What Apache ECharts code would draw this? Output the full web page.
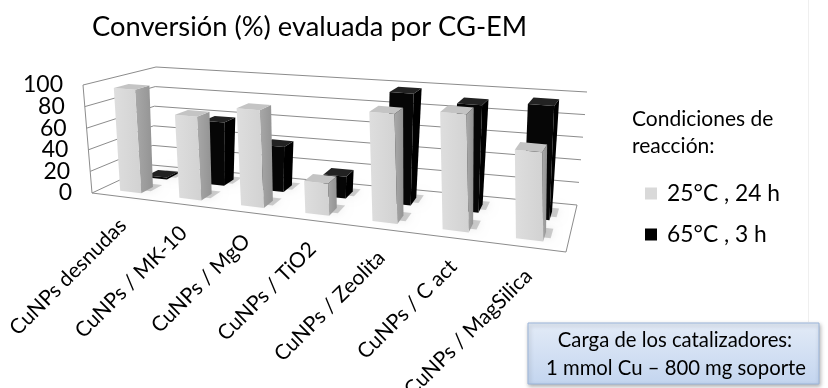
<!DOCTYPE html>
<html>
<head>
<meta charset="utf-8">
<script src="https://cdn.jsdelivr.net/npm/echarts@6/dist/echarts.min.js"></script>
<style>
  html, body { margin: 0; padding: 0; background: #fff; }
  #chart { width: 828px; height: 388px; }
</style>
</head>
<body>
<div id="chart"></div>
<script>
// ---- data ----
const categories = ['CuNPs desnudas', 'CuNPs / MK-10', 'CuNPs / MgO', 'CuNPs / TiO2',
                    'CuNPs / Zeolita', 'CuNPs / C act', 'CuNPs / MagSilica'];
const seriesNames = ['25°C , 24 h', '65°C , 3 h'];
const conv25 = [96, 76, 87, 28, 94, 99, 73];   // 25 °C, 24 h
const conv65 = [2, 60, 42, 20, 100, 94, 98];   // 65 °C, 3 h
const yTicks = [0, 20, 40, 60, 80, 100];

const FONT = 'Lato, "Open Sans", sans-serif';

// ---- 3D view of the plot box ----
// Box axes: X runs along the categories, Y is the value (0..1 of the axis),
// Z is the depth (0 = front edge of the floor, 1 = back wall).
// Screen position of each corner, keyed by "XYZ".
const BOX = {
  '000': [92, 193], '100': [566, 252], '010': [83, 85],  '110': [563, 127],
  '001': [152, 165], '101': [577, 205], '011': [156, 67], '111': [587, 92]
};
// homogeneous weights (relative distance from the eye) for the perspective
function depthWeight(X, Z) { return (1 - 0.14 * X) * (1 + 0.10 * Z); }
function project(X, Y, Z) {
  let sx = 0, sy = 0, sw = 0;
  for (const a of [0, 1]) for (const b of [0, 1]) for (const c of [0, 1]) {
    const f = (a ? X : 1 - X) * (b ? Y : 1 - Y) * (c ? Z : 1 - Z) * depthWeight(a, c);
    const pt = BOX['' + a + b + c];
    sx += f * pt[0]; sy += f * pt[1]; sw += f;
  }
  return [sx / sw, sy / sw];
}

const BAR_HALF = 0.18;             // half bar width, as a fraction of a category band
const ROWS = {                     // depth span of each series row
  front: [0.15, 0.35],
  back:  [0.60, 0.80]
};

function normX(cs, px) { return (px - cs.x) / cs.width; }
function normY(cs, py) { return (cs.y + cs.height - py) / cs.height; }

function poly(points, fill, extra) {
  return {
    type: 'polygon',
    shape: { points: points },
    style: Object.assign({ fill: fill, stroke: null }, extra || {})
  };
}

function makeBarRenderer(depth, look) {
  return function (params, api) {
    const cs = params.coordSys;
    const idx = api.value(0), val = api.value(1);
    const top = api.coord([idx, val]);
    const band = api.size([1, 0])[0];
    const x0 = normX(cs, top[0] - band * BAR_HALF);
    const x1 = normX(cs, top[0] + band * BAR_HALF);
    const yT = normY(cs, top[1]);
    const z0 = depth[0], z1 = depth[1];
    const fbl = project(x0, 0, z0), fbr = project(x1, 0, z0);
    const ftl = project(x0, yT, z0), ftr = project(x1, yT, z0);
    const bbr = project(x1, 0, z1), btr = project(x1, yT, z1), btl = project(x0, yT, z1);
    const dx = 0.012, dz = 0.08;
    const shadow = [project(x0 + dx, 0, z0 + dz), project(x1 + dx, 0, z0 + dz),
                    project(x1 + dx, 0, z1 + dz), project(x0 + dx, 0, z1 + dz)];
    return {
      type: 'group',
      children: [
        poly(shadow, 'rgba(0,0,0,0.18)', { shadowBlur: 10, shadowColor: 'rgba(0,0,0,0.45)' }),
        poly([fbr, bbr, btr, ftr], look.side),
        poly([fbl, fbr, ftr, ftl], look.front),
        poly([ftl, ftr, btr, btl], look.top)
      ]
    };
  };
}

// walls, gridlines, floor outline and the axis texts
function renderFrame(params, api) {
  const cs = params.coordSys;
  const lineStyle = { stroke: '#8c8c8c', lineWidth: 1 };
  const children = [];
  const seg = (a, b) => children.push({
    type: 'line', shape: { x1: a[0], y1: a[1], x2: b[0], y2: b[1] }, style: lineStyle
  });
  yTicks.forEach(function (t) {
    const Y = normY(cs, api.coord([0, t])[1]);
    seg(project(0, Y, 0), project(0, Y, 1));
    seg(project(0, Y, 1), project(1, Y, 1));
    const lp = project(0, Y, 0);
    children.push({
      type: 'text', x: lp[0] - 20, y: lp[1],
      style: { text: String(t), align: 'right', verticalAlign: 'middle',
               font: '23px ' + FONT, fill: '#000' }
    });
  });
  seg(project(0, 0, 0), project(0, 1, 0));
  seg(project(0, 0, 0), project(1, 0, 0));
  seg(project(1, 0, 0), project(1, 0, 1));
  categories.forEach(function (name, i) {
    const X = normX(cs, api.coord([i, 0])[0]);
    const p = project(X, 0, 0);
    children.push({
      type: 'text', x: p[0] - 6, y: p[1] + 18, rotation: Math.PI / 4,
      style: { text: name, align: 'right', verticalAlign: 'top',
               font: '21px ' + FONT, fill: '#000' }
    });
  });
  return { type: 'group', children: children };
}

const chart = echarts.init(document.getElementById('chart'), null, { renderer: 'canvas' });
chart.setOption({
  animation: false,
  backgroundColor: '#fff',
  grid: { left: 0, right: 0, top: 0, bottom: 0 },
  xAxis: { type: 'category', data: categories, show: false },
  yAxis: { type: 'value', min: 0, max: 100, show: false },
  title: {
    text: 'Conversión (%) evaluada por CG-EM',
    left: 87, top: 9,
    textStyle: { fontFamily: FONT, fontSize: 27.3, fontWeight: 'normal', color: '#000' }
  },
  legend: {
    orient: 'vertical', left: 640, top: 177,
    itemWidth: 12, itemHeight: 12, itemGap: 18, icon: 'rect',
    data: seriesNames,
    textStyle: { fontFamily: FONT, fontSize: 22.8, color: '#000', padding: [0, 0, 0, 5] }
  },
  graphic: [
    { type: 'line', shape: { x1: 808.5, y1: 0, x2: 808.5, y2: 322 },
      style: { stroke: '#efefef', lineWidth: 1 } },
    { type: 'text', left: 632, top: 106,
      style: { text: 'Condiciones de\nreacción:', font: '21px ' + FONT, lineHeight: 27, fill: '#000' } },
    { type: 'rect', shape: { x: 528, y: 323, width: 291, height: 61 },
      style: {
        fill: new echarts.graphic.LinearGradient(0, 0, 0, 1, [
          { offset: 0, color: '#e3ebf7' }, { offset: 1, color: '#c3d5ef' }]),
        stroke: '#9bb5da', lineWidth: 1,
        shadowBlur: 4, shadowOffsetX: 1, shadowOffsetY: 2, shadowColor: 'rgba(0,0,0,0.3)'
      } },
    { type: 'text', x: 675, y: 340,
      style: { text: 'Carga de los catalizadores:', font: '20.3px ' + FONT,
               align: 'center', verticalAlign: 'middle', fill: '#000' } },
    { type: 'text', x: 676, y: 368,
      style: { text: '1 mmol Cu – 800 mg soporte', font: '20.3px ' + FONT,
               align: 'center', verticalAlign: 'middle', fill: '#000' } }
  ],
  series: [
    { type: 'custom', name: 'frame', renderItem: renderFrame, data: [[0, 0]], silent: true, z: 1 },
    { type: 'custom', name: seriesNames[1], itemStyle: { color: '#000' }, z: 2,
      renderItem: makeBarRenderer(ROWS.back, { front: '#060606', side: '#000000', top: '#222222' }),
      data: conv65.map((v, i) => [i, v]) },
    { type: 'custom', name: seriesNames[0], itemStyle: { color: '#d9d9d9' }, z: 3,
      renderItem: makeBarRenderer(ROWS.front, {
        front: new echarts.graphic.LinearGradient(0, 0, 1, 0, [
          { offset: 0, color: '#dedede' }, { offset: 1, color: '#d2d2d2' }]),
        side: new echarts.graphic.LinearGradient(0, 0, 1, 0, [
          { offset: 0, color: '#a8a8a8' }, { offset: 1, color: '#939393' }]),
        top: '#c4c4c4' }),
      data: conv25.map((v, i) => [i, v]) }
  ]
});
</script>
</body>
</html>
